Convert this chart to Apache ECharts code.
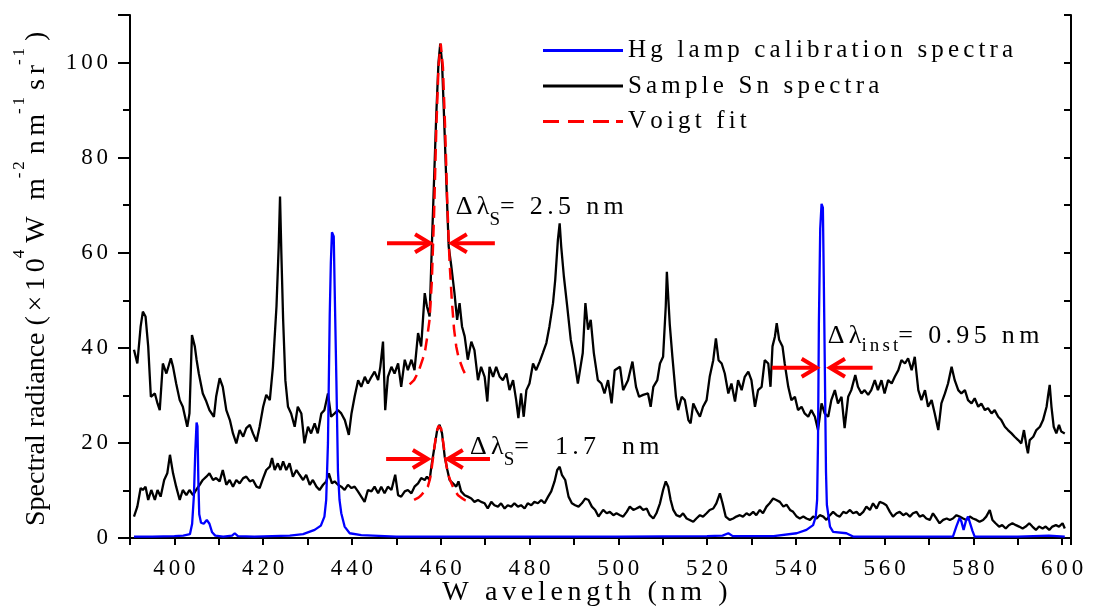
<!DOCTYPE html>
<html><head><meta charset="utf-8">
<script src="https://cdn.jsdelivr.net/npm/echarts@6/dist/echarts.min.js"></script>
<style>html,body{margin:0;padding:0;background:#fff}#c{width:1093px;height:614px}</style>
</head><body><div id="c"></div>
<script>
// ---------------- data ----------------
const xTickLabels = [400,420,440,460,480,500,520,540,560,580,600];
const yTickLabels = [0,20,40,60,80,100];
const seriesNames = ['Hg lamp calibration spectra','Sample Sn spectra','Voigt fit'];

// Sample Sn spectra, upper (higher radiance) trace: [wavelength nm, radiance]
const snHigh = [
[390.9,39.6],[391.65,36.7],[392.4,44.5],[392.9,47.6],[393.5,46.6],[394.1,40.3],[394.7,29.7],[395.6,30.4],[396.2,28.3],[396.7,26.9],
[397.4,36.7],[398.2,34.6],[399.2,37.8],[399.7,36.0],[400.4,32.5],[401.2,29.0],[401.9,27.6],[402.9,23.4],[403.4,26.2],[403.96,42.7],
[404.6,40.3],[405.0,37.5],[405.5,34.6],[406.4,30.4],[407.2,28.7],[407.9,26.9],[408.9,25.5],[409.4,29.7],[410.2,33.6],[410.9,31.8],
[411.7,26.9],[412.5,24.8],[413.2,22.0],[413.95,19.9],[414.7,22.7],[415.5,21.3],[416.2,23.1],[417.0,23.8],[417.7,22.0],[418.5,20.3],
[419.2,23.4],[420.0,27.6],[420.7,30.1],[421.5,29.0],[422.2,36.0],[423.0,48.7],[423.5,61.3],[423.8,71.8],[424.1,59.9],[424.5,45.9],
[425.0,33.2],[425.6,27.6],[426.3,26.2],[427.1,23.4],[427.8,27.6],[428.6,26.2],[429.3,19.9],[430.1,23.4],[430.8,22.0],[431.6,24.1],
[432.3,22.0],[433.1,26.2],[433.8,26.9],[434.6,30.4],[435.3,25.5],[436.1,26.2],[436.85,26.9],[437.6,26.2],[438.4,24.8],[439.3,21.7],
[439.9,26.2],[440.6,29.7],[441.4,33.2],[442.1,31.8],[442.9,33.9],[443.6,32.5],[444.4,33.9],[445.1,35.0],[445.9,33.2],[446.4,36.0],
[447.0,41.3],[447.5,26.9],[448.1,33.9],[448.9,36.0],[449.6,34.6],[450.4,36.7],[451.1,31.8],[451.9,37.5],[452.6,35.3],[453.4,37.5],
[454.1,35.3],[454.9,43.1],[455.6,40.3],[456.4,51.5],[456.9,48.7],[457.5,46.6],[458.0,61.3],[458.5,75.3],[459.0,89],[459.5,100],
[459.9,104],[460.3,100],[460.7,90],[461.25,75.3],[461.8,61.3],[462.4,57.1],[463.1,51.5],[463.7,45.9],[464.25,49.4],[464.8,44.5],
[465.4,42.4],[466.1,37.5],[466.9,41.3],[467.6,39.5],[468.4,33.2],[469.1,36.0],[469.9,33.9],[470.5,28.7],[471.0,36.0],[471.8,33.9],
[472.5,36.0],[473.3,33.9],[474.0,33.2],[474.8,34.6],[475.5,31.1],[476.3,33.2],[477.0,29.0],[477.5,25.2],[478.1,30.4],[478.7,25.5],
[479.3,31.1],[480.0,32.5],[480.8,36.7],[481.5,35.3],[482.3,37.1],[483.0,38.9],[483.8,41.0],[484.5,44.5],[485.3,49.4],[485.8,54.3],
[486.4,62.7],[486.8,66.2],[487.15,61.3],[487.75,55.0],[488.5,48.7],[489.3,41.7],[490.0,38.1],[490.9,32.5],[491.5,36.0],[492.0,38.9],
[492.6,49.4],[493.2,43.8],[493.8,45.9],[494.5,38.9],[495.4,33.2],[496.2,32.5],[496.9,30.4],[497.7,33.2],[498.5,28.3],[499.2,35.3],
[500.4,36.0],[501.1,31.1],[502.2,33.2],[503.2,37.1],[504.0,31.8],[504.7,29.7],[505.6,30.1],[506.7,30.4],[507.3,27.6],[507.9,31.8],
[508.8,33.2],[509.4,36.7],[510.1,38.1],[510.7,48.7],[510.95,56.0],[511.3,50],[511.6,45],[512.2,38.1],[513.0,29.7],[513.5,26.9],
[514.3,29.7],[515.0,29.0],[515.8,24.8],[516.3,24.1],[516.9,28.3],[517.6,26.9],[518.4,25.5],[519.1,27.6],[519.9,29.0],[520.6,33.9],
[521.4,37.4],[522.0,42.0],[522.6,37.4],[523.3,36.7],[524.0,34.6],[524.8,30.4],[525.5,32.5],[526.3,28.7],[527.0,33.2],[527.8,31.1],
[528.5,33.9],[529.3,35.0],[530.0,33.2],[530.8,27.6],[531.5,31.1],[532.3,31.8],[533.0,37.4],[533.8,36.7],[534.3,31.8],[534.75,40.3],
[535.3,42.4],[535.7,45.2],[536.25,41.7],[537.0,40.3],[537.5,36.7],[538.3,31.8],[539.0,29.0],[539.8,29.7],[540.5,26.9],[541.3,27.6],
[542.0,26.2],[542.8,25.5],[543.5,26.9],[544.3,25.5],[545.0,22.7],[545.8,28.3],[546.5,26.2],[547.3,25.5],[548.0,29.0],[548.8,31.1],
[549.5,28.3],[550.3,29.7],[551.0,23.1],[551.8,29.7],[552.5,31.1],[553.4,34.3],[554.0,31.8],[554.8,30.4],[555.5,31.1],[556.3,30.1],
[557.0,31.1],[557.8,33.2],[558.5,31.1],[559.3,33.2],[560.0,30.4],[560.8,33.2],[561.6,32.5],[562.3,33.9],[563.1,35.3],[563.8,37.4],
[564.6,36.7],[565.3,37.8],[566.1,35.3],[566.8,38.1],[567.6,31.1],[568.3,29.0],[569.1,31.1],[569.8,27.6],[570.6,29.0],[571.3,26.2],
[572.1,22.7],[572.8,28.3],[573.6,30.4],[574.3,32.5],[575.1,36.0],[575.8,33.2],[576.6,31.1],[577.3,30.4],[578.1,31.1],[578.8,29.0],
[579.6,28.3],[580.3,29.4],[581.1,27.6],[581.8,28.3],[582.6,26.9],[583.3,27.3],[584.1,26.2],[584.8,26.9],[585.6,25.5],[586.3,24.8],
[587.1,23.4],[587.8,22.7],[588.6,22.0],[589.3,21.3],[590.1,20.6],[590.8,19.9],[591.4,22.7],[592.0,19.2],[592.3,17.8],[592.7,20.6],
[593.5,21.3],[594.2,22.7],[595.0,23.4],[595.7,24.8],[596.5,27.6],[596.8,29.7],[597.2,32.2],[597.6,27.6],[598.1,23.4],[598.7,22.0],
[599.3,23.8],[599.8,22.4],[600.6,22.0]
];

// Sample Sn spectra, lower trace
const snLow = [
[390.9,4.5],[391.65,6.6],[392.4,10.5],[392.9,10.1],[393.5,10.8],[394.1,8.0],[394.8,10.1],[395.6,8.0],[396.2,10.1],[396.9,8.7],
[397.7,12.2],[398.4,13.6],[399.0,17.5],[399.7,13.6],[400.4,10.8],[401.2,8.0],[401.9,10.1],[402.7,9.0],[403.4,10.1],[404.2,9.0],
[404.9,10.1],[405.7,11.2],[406.4,12.2],[407.2,12.9],[407.9,13.6],[408.7,12.2],[409.4,12.6],[410.2,11.9],[410.9,14.3],[411.7,11.2],
[412.45,12.2],[413.2,10.8],[413.95,12.2],[414.7,11.5],[415.5,12.6],[416.2,12.9],[417.0,11.9],[417.7,12.2],[418.5,10.8],[419.2,10.5],
[420.0,12.6],[420.7,14.3],[421.5,15.0],[422.0,16.8],[422.6,14.3],[423.3,15.7],[423.9,14.3],[424.5,16.1],[425.2,14.3],[425.95,15.7],
[426.7,12.9],[427.5,14.3],[428.2,13.3],[429.0,12.2],[429.7,13.3],[430.5,11.2],[431.2,12.2],[432.0,10.8],[432.7,10.1],[433.5,11.2],
[434.2,11.9],[434.8,13.6],[435.5,11.5],[436.1,11.9],[436.85,11.2],[437.6,10.8],[438.35,10.1],[439.1,11.2],[439.9,10.5],[440.6,10.8],
[441.35,9.8],[442.1,8.7],[442.85,7.6],[443.6,10.1],[444.4,9.8],[445.1,10.8],[445.9,9.4],[446.6,10.8],[447.35,9.4],[448.1,10.8],
[448.9,10.1],[449.75,13.3],[450.4,9.0],[451.1,8.7],[451.9,9.8],[452.6,10.1],[453.4,9.4],[454.1,10.8],[454.9,11.5],[455.6,12.6],
[456.4,12.2],[456.9,12.9],[457.5,12.2],[458.0,15.7],[458.6,19.2],[459.2,22.7],[459.75,23.8],[460.3,22.0],[460.9,17.1],[461.5,14.3],
[462.0,12.2],[462.75,11.5],[463.5,10.8],[464.0,11.9],[464.6,9.8],[465.4,9.0],[466.1,8.7],[466.9,8.3],[467.6,7.6],[468.4,8.0],
[469.1,7.6],[469.9,7.3],[470.6,6.2],[471.4,7.6],[472.1,6.9],[472.9,6.6],[473.6,7.3],[474.4,6.2],[475.1,6.9],[475.9,6.6],
[476.6,7.3],[477.4,6.6],[478.1,6.9],[478.9,6.2],[479.6,7.3],[480.4,6.9],[481.1,7.6],[481.9,7.3],[482.65,8.0],[483.4,7.3],
[484.2,8.7],[484.9,9.8],[485.65,11.9],[486.25,14.3],[486.8,15.0],[487.3,13.3],[488.05,12.2],[488.8,8.7],[489.55,7.3],[490.3,6.9],
[491.05,6.6],[491.8,7.3],[492.55,8.3],[493.3,8.0],[494.05,6.6],[494.8,5.9],[495.55,4.5],[496.6,5.9],[497.4,5.2],[498.1,5.5],
[498.9,4.8],[499.6,5.2],[500.4,4.8],[501.1,4.5],[501.9,5.5],[502.6,6.6],[503.4,5.9],[504.1,6.2],[504.9,6.6],[505.6,5.9],
[506.4,6.2],[507.1,4.8],[507.9,4.1],[508.6,5.2],[509.4,7.3],[510.1,10.1],[510.7,11.9],[511.25,10.8],[511.8,8.0],[512.4,5.9],
[513.1,4.8],[513.9,4.5],[514.6,5.2],[515.4,4.1],[516.1,3.8],[516.9,3.4],[517.6,4.1],[518.4,4.8],[519.1,4.5],[519.9,5.2],
[520.6,5.9],[521.4,6.2],[522.1,7.3],[522.9,9.4],[523.5,7.3],[524.2,4.5],[525.1,3.8],[525.9,4.1],[526.6,4.5],[527.4,4.8],
[528.1,4.5],[528.9,5.2],[529.6,4.8],[530.4,5.5],[531.1,4.8],[531.9,5.9],[532.6,5.2],[533.4,6.6],[534.1,7.3],[534.9,8.3],
[535.6,8.0],[536.4,7.6],[537.2,6.6],[537.9,7.0],[538.7,5.9],[539.4,5.5],[540.2,4.5],[540.9,4.1],[541.7,4.5],[542.4,4.1],
[543.2,3.8],[543.9,4.5],[544.7,4.1],[545.4,4.8],[546.2,4.5],[546.9,3.8],[547.7,4.8],[548.4,5.5],[549.2,4.8],[549.9,4.5],
[550.7,5.5],[551.4,5.2],[552.2,5.9],[552.9,5.2],[553.7,5.5],[554.4,4.8],[555.2,5.5],[555.9,6.6],[556.7,5.9],[557.4,7.3],
[558.2,6.2],[558.9,7.6],[559.7,7.3],[560.4,6.9],[561.2,5.5],[561.9,4.5],[562.7,5.2],[563.4,5.5],[564.2,4.8],[564.9,5.2],
[565.7,4.5],[566.4,5.2],[567.2,5.5],[567.9,4.5],[568.7,4.8],[569.4,4.1],[570.2,3.8],[570.9,5.2],[571.7,4.1],[572.4,3.1],
[573.2,3.8],[574.0,4.1],[574.7,3.8],[575.4,4.1],[576.2,4.8],[576.9,4.5],[577.7,4.1],[578.4,3.8],[579.2,4.5],[579.9,4.1],
[580.7,3.8],[581.4,3.4],[582.2,3.8],[582.9,4.5],[583.7,5.9],[584.3,3.8],[585.0,3.1],[585.8,2.4],[586.5,2.7],[587.3,2.0],
[588.0,2.7],[588.8,3.1],[589.6,2.7],[590.3,2.4],[591.1,2.0],[591.8,2.4],[592.6,3.1],[593.3,2.4],[594.1,1.7],[594.8,2.4],
[595.6,2.0],[596.3,2.4],[597.1,1.7],[597.8,2.4],[598.6,2.7],[599.3,2.4],[600.1,3.1],[600.6,2.0]
];

// Hg lamp calibration spectrum
const hgLamp = [
[390.9,0.3],[395,0.3],[400,0.4],[402,0.5],[403.5,0.8],[404.0,3],[404.4,9],[404.7,18],[405.0,24.3],[405.2,23.5],
[405.4,12],[405.6,5],[406.0,3.2],[406.6,3.0],[407.3,3.8],[407.9,3.0],[408.5,1.2],[409.2,0.5],[411,0.3],[413,0.5],
[413.6,1.0],[414.3,0.4],[418,0.3],[422,0.4],[426,0.5],[429,0.8],[431.6,1.7],[433.0,2.6],[433.8,4.5],[434.2,8],
[434.6,20],[435.0,47],[435.25,58],[435.5,64.3],[435.9,63.4],[436.1,53],[436.5,33],[436.85,14],[437.2,8],[437.6,5.2],
[438.35,2.4],[439.5,1.0],[442.1,0.6],[450,0.3],[470,0.3],[500,0.3],[520,0.4],[523.5,0.5],[524.8,1.0],[525.8,0.4],
[535,0.4],[540.2,1.0],[542.4,1.7],[543.9,2.7],[544.5,4.5],[544.8,8],[545.0,20],[545.2,45],[545.5,65],[545.8,70.3],
[546.1,69.5],[546.3,55],[546.55,35],[546.8,14],[547.0,7],[547.7,2.4],[548.4,1.3],[551.4,1.0],[552.9,0.3],[560,0.3],
[575.4,0.3],[576.2,2.5],[576.9,4.2],[577.3,3.5],[577.8,1.7],[578.3,3.5],[578.8,4.5],[579.2,4.1],[579.8,1.5],[580.3,0.3],
[590,0.3],[597,0.5],[600.6,0.3]
];

// Voigt fits
const voigtHigh = [
[453.0,32.3],[454,33.2],[455,35],[456,37.8],[456.5,39.5],[457,42.5],[457.5,46],[458,54],[458.5,68],[459,86],
[459.5,99],[460,104],[460.5,99],[461,86],[461.5,70],[462,58],[462.5,50],[463,44],[463.5,40.3],[464,38],
[465,35.5],[466,33.5]
];
const voigtLow = [
[454.0,8.0],[455,8.5],[455.6,9.0],[456.5,10],[457.1,10.8],[457.6,12.5],[457.9,14.3],[458.3,17],[458.6,19.2],[459.0,22],
[459.5,23.6],[459.75,23.8],[460.1,23],[460.5,20.5],[460.9,17.8],[461.3,15.2],[461.6,13.6],[462.2,12],[462.75,10.8],[463.3,9.8],
[463.9,9.0],[464.6,8.5],[465.4,8.0],[466.5,7.8]
];

// width annotations: arrows [tailX, y, tipX]
const arrows = [
[447.9,62,457.6],[472.2,62,462.5],
[447.7,16.6,457.1],[471.1,16.6,461.6],
[534.6,35.8,544.7],[557.3,35.8,547.7]
];
// annotation texts: anchor [x, y]
const annoPos = [[463.4,69.6],[466.6,19.1],[547.2,42.5]];
const annoSub = ['S','S','inst'];
const annoRest = ['= 2.5 nm','=  1.7  nm','= 0.95 nm'];

// ---------------- chart ----------------
const FAM = 'Liberation Serif';
const COLORS = ['#0000ff', '#000000', '#ff0000'];
const sp = s => Array.from(s).join('\u2006');
const ctx = document.createElement('canvas').getContext('2d');
function fnt(size){ return size + 'px "' + FAM + '"'; }
function tw(t, size){ ctx.font = fnt(size); return ctx.measureText(t).width; }

function pieces(list, x0, y0){
  let x = x0; const out = [];
  list.forEach(p => {
    out.push({type:'text', x: x, y: y0 + (p.dy||0),
      style:{text:p.t, font:fnt(p.s), fontFamily:FAM, fontSize:p.s, fill:'#000', align:'left', verticalAlign:'middle'}});
    x += tw(p.t, p.s);
  });
  return out;
}

const legendIcons = [
  'path://M0,0h80v3h-80z',
  'path://M0,0h80v3h-80z',
  'path://M0,0h16v3h-16z M25,0h16v3h-16z M50,0h16v3h-16z M73,0h7v3h-7z'
];

const chart = echarts.init(document.getElementById('c'), null, {renderer:'canvas'});
const axisLine = {show:true, lineStyle:{color:'#000', width:2}};
const option = {
  animation:false,
  backgroundColor:'#fff',
  textStyle:{fontFamily:FAM},
  grid:{left:130, right:22, top:15, bottom:76, containLabel:false},
  legend:{
    orient:'vertical', left:538, top:33, itemWidth:80, itemHeight:3, itemGap:10.5,
    data: seriesNames.map((n, i) => ({name:n, icon:legendIcons[i],
      itemStyle:{color:COLORS[i], borderWidth:0, opacity:1}})),
    formatter: n => sp(n),
    textStyle:{fontFamily:FAM, fontSize:25, color:'#000', lineHeight:25}
  },
  xAxis:[
    {type:'value', min:390, max:602, interval:10, position:'bottom',
     axisLine, splitLine:{show:false},
     axisTick:{show:true, inside:false, length:7, lineStyle:{color:'#000', width:2}},
     axisLabel:{show:true, margin:19, color:'#000', fontFamily:FAM, fontSize:23,
       formatter: v => xTickLabels.indexOf(v) >= 0 ? sp(String(v)) : ''}},
    {type:'value', min:390, max:602, interval:10, position:'top',
     axisLine, splitLine:{show:false},
     axisTick:{show:true, inside:true, length:7, lineStyle:{color:'#000', width:2}},
     axisLabel:{show:false}}
  ],
  yAxis:[
    {type:'value', min:0, max:110, interval:20, position:'left',
     axisLine, splitLine:{show:false},
     axisTick:{show:true, inside:false, length:12, lineStyle:{color:'#000', width:2}},
     minorTick:{show:true, splitNumber:2, length:7, lineStyle:{color:'#000', width:2}},
     axisLabel:{show:true, margin:22, color:'#000', fontFamily:FAM, fontSize:23,
       formatter: v => yTickLabels.indexOf(v) >= 0 ? sp(String(v)) : ''}},
    {type:'value', min:0, max:110, interval:10, position:'right',
     axisLine, splitLine:{show:false},
     axisTick:{show:true, inside:true, length:7, lineStyle:{color:'#000', width:2}},
     axisLabel:{show:false}}
  ],
  series:[
    {name:seriesNames[1], type:'line', data:snHigh, symbol:'none', z:2,
     lineStyle:{color:COLORS[1], width:2.3}, itemStyle:{color:COLORS[1]}},
    {name:seriesNames[1], type:'line', data:snLow, symbol:'none', z:2,
     lineStyle:{color:COLORS[1], width:2.3}, itemStyle:{color:COLORS[1]}},
    {name:seriesNames[0], type:'line', data:hgLamp, symbol:'none', z:3,
     lineStyle:{color:COLORS[0], width:2.3}, itemStyle:{color:COLORS[0]}},
    {name:seriesNames[2], type:'line', data:voigtHigh, symbol:'none', z:4,
     lineStyle:{color:COLORS[2], width:2.5, type:[12,7]}, itemStyle:{color:COLORS[2]}},
    {name:seriesNames[2], type:'line', data:voigtLow, symbol:'none', z:4,
     lineStyle:{color:COLORS[2], width:2.5, type:[12,7]}, itemStyle:{color:COLORS[2]}},
    {name:'arrows', type:'custom', data:arrows, z:5, silent:true,
     encode:{x:0, y:1},
     renderItem:(params, api) => {
       const p1 = api.coord([api.value(0), api.value(1)]);
       const p2 = api.coord([api.value(2), api.value(1)]);
       const dir = Math.sign(p2[0] - p1[0]);
       const hl = 15, hw = 9;
       return {type:'group', children:[
         {type:'line', shape:{x1:p1[0], y1:p1[1], x2:p2[0] - dir*2, y2:p2[1]},
          style:{stroke:'#ff0000', lineWidth:4}},
         {type:'polyline', shape:{points:[[p2[0]-dir*hl, p2[1]-hw],[p2[0], p2[1]],[p2[0]-dir*hl, p2[1]+hw]]},
          style:{stroke:'#ff0000', lineWidth:4, fill:null, lineJoin:'miter'}}
       ]};
     }},
    {name:'labels', type:'custom', data:annoPos, z:6, silent:true,
     encode:{x:0, y:1},
     renderItem:(params, api) => {
       const i = params.dataIndex;
       const p = api.coord([api.value(0), api.value(1)]);
       const subDy = annoSub[i] === 'S' ? 13 : 10;
       return {type:'group', children: pieces([
         {t:sp('Δλ'), s:26},
         {t:sp(annoSub[i]), s:19, dy:subDy},
         {t:sp(annoRest[i]), s:26}
       ], p[0], p[1])};
     }}
  ],
  graphic:[
    {type:'group', x:37, y:526, rotation:Math.PI/2, children: pieces([
      {t:'Spectral radiance ' + sp('(×10'), s:28},
      {t:'4', s:17, dy:-17},
      {t:' ' + sp('W m'), s:28},
      {t:sp('-2'), s:17, dy:-17},
      {t:' ' + sp('nm'), s:28},
      {t:sp('-1'), s:17, dy:-17},
      {t:' ' + sp('sr'), s:28},
      {t:sp('-1'), s:17, dy:-17},
      {t:' )', s:28}
    ], 0, 0)},
    {type:'text', x:585, y:593, style:{text:sp('W avelength (nm )'), font:fnt(28), fontFamily:FAM, fontSize:28,
      fill:'#000', align:'center', verticalAlign:'middle'}}
  ]
};
chart.setOption(option);
</script>
</body></html>
